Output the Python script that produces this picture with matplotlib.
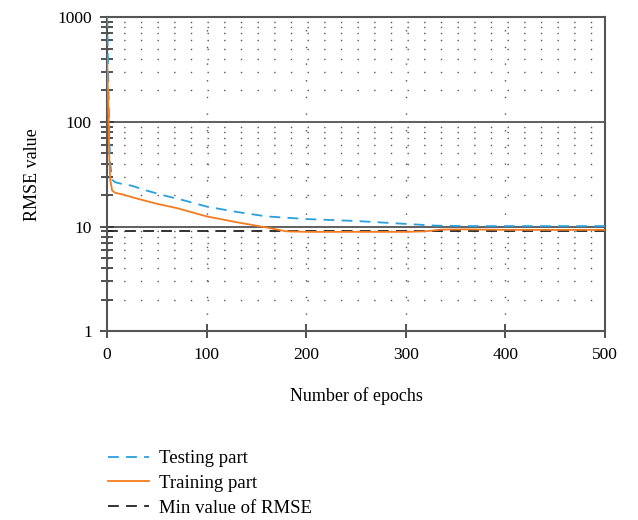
import numpy as np
import matplotlib
matplotlib.use("Agg")
import matplotlib.pyplot as plt
from matplotlib.ticker import LogLocator, FixedLocator, NullFormatter

plt.rcParams["font.family"] = ["Liberation Serif", "DejaVu Serif"]

# ---- data ----
test_x = [0, 1, 2, 3, 5, 8, 15, 25, 40, 60, 80, 100, 130, 160, 200, 250, 300, 330, 360, 400, 450, 500]
test_y = [1000, 300, 80, 40, 28, 26.5, 25.5, 24.5, 22, 19.5, 17.5, 15.5, 13.8, 12.5, 11.8, 11.3, 10.6, 10.2, 10.1, 10.1, 10.1, 10.1]
train_x = [0, 1, 2, 3, 5, 8, 15, 30, 50, 70, 100, 130, 160, 180, 200, 250, 300, 320, 335, 360, 400, 450, 500]
train_y = [400, 150, 50, 28, 22, 21, 20.3, 18.5, 16.5, 15, 12.5, 11, 9.8, 9.0, 8.9, 8.9, 8.9, 9.0, 9.35, 9.4, 9.3, 9.3, 9.3]
min_rmse = 9.1
xticks = [0, 100, 200, 300, 400, 500]
yticks = [1, 10, 100, 1000]

fig = plt.figure(figsize=(6.38, 5.20), dpi=100)
ax = fig.add_axes([0.168, 0.363, 0.78, 0.604])

ax.set_yscale("log")
ax.set_xlim(0, 500)
ax.set_ylim(1, 1000)

# grid
for v in [10, 100]:
    ax.axhline(v, color="#444444", lw=1.2, zorder=1)
minor_y = [m * 10**d for d in range(3) for m in range(2, 10)]
for v in minor_y:
    ax.axhline(v, color="#555555", lw=1.0, ls=(0, (1, 11)), zorder=1)
for v in xticks[1:-1]:
    ax.axvline(v, color="#555555", lw=1.0, ls=(0, (1, 11)), zorder=1)

ax.plot(test_x, test_y, color="#2a9fdc", lw=1.3, ls=(0, (6, 4)), label="Testing part", zorder=3)
ax.plot(train_x, train_y, color="#f47b20", lw=1.3, label="Training part", zorder=3)
ax.axhline(min_rmse, color="#222222", lw=1.3, ls=(0, (6, 4)), label="Min value of RMSE", zorder=2)

ax.xaxis.set_major_locator(FixedLocator(xticks))
ax.yaxis.set_major_locator(FixedLocator(yticks))
ax.yaxis.set_minor_locator(LogLocator(base=10, subs=np.arange(2, 10)))
ax.yaxis.set_minor_formatter(NullFormatter())
ax.set_yticklabels([str(t) for t in yticks])
ax.tick_params(axis="both", which="major", direction="inout", length=10, width=1.2,
               color="#333333", labelsize=12.5, pad=6)
ax.tick_params(axis="y", which="minor", direction="inout", length=8, width=1.2, color="#333333")
ax.tick_params(axis="x", which="minor", length=0)

for s in ax.spines.values():
    s.set_color("#555555")
    s.set_linewidth(1.5)

ax.set_xlabel("Number of epochs", fontsize=13, labelpad=18)
ax.set_ylabel("RMSE value", fontsize=13, labelpad=12)

ax.legend(loc="upper left", bbox_to_anchor=(-0.013, -0.355), frameon=False, fontsize=13.5,
          handlelength=2.2, handletextpad=0.5, labelspacing=0.4, borderaxespad=0)

fig.savefig("out.png", dpi=100)
